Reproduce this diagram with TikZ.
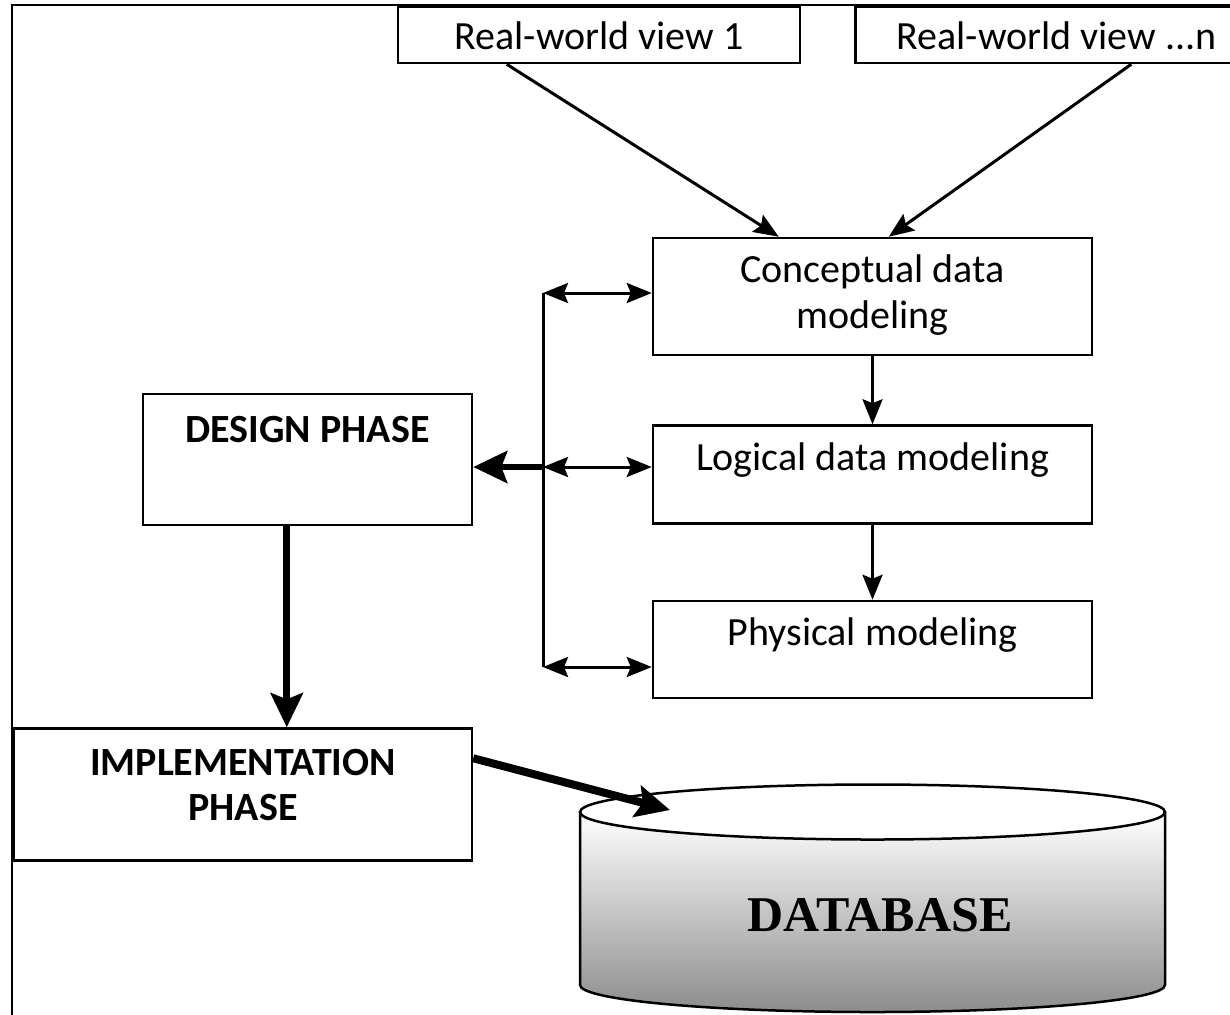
\documentclass[tikz,border=0pt]{standalone}
\usepackage{fontspec}
\setmainfont{Carlito}
\newfontfamily\dbfont{Liberation Serif}
\usetikzlibrary{arrows.meta,positioning,calc}

\tikzset{
	box/.style={draw, line width=1.25pt, align=center, inner sep=0pt},
	lift/.style 2 args={text height=#1, text depth=#2},
	phase/.style={box, font=\fontsize{20pt}{22.5pt}\selectfont\bfseries},
	link/.style={line width=1.5pt, -{Stealth[length=12.5pt,width=10pt,inset=2pt]}},
	both/.style={line width=1.5pt, {Stealth[length=12.5pt,width=10pt,inset=2pt]}-{Stealth[length=12.5pt,width=10pt,inset=2pt]}},
	heavy/.style={line width=3.5pt, -{Stealth[length=17pt,width=16pt,inset=3pt]}}
}

\begin{document}
\begin{tikzpicture}[x=0.5pt, y=-0.5pt, font=\fontsize{20pt}{23pt}\selectfont]
	\useasboundingbox (0,0) rectangle (1230,1014);
	\clip (0,0) rectangle (1230,1014);
	\fill[white] (0,0) rectangle (1230,1014);
	% outer frame
	\draw[line width=1pt] (12,5) rectangle (1260,1040);

	% views
	\node[box, lift={14pt}{0pt}, minimum width=201pt, minimum height=28pt](rw1) at (599,35){Real-world view 1};
	\node[box, lift={14pt}{0pt}, minimum width=201pt, minimum height=28pt, right=26.5pt of rw1](rwn){Real-world view ...n};

	% modeling steps
	\node[box, lift={36pt}{4.5pt}, minimum width=219.5pt, minimum height=58.5pt](conc) at (872.5,296.5){Conceptual data\\modeling};
	\node[box, lift={14pt}{18pt}, minimum width=219.5pt, minimum height=49pt, below=34pt of conc](logi){Logical data modeling};
	\node[box, lift={14pt}{18pt}, minimum width=219.5pt, minimum height=48.5pt, below=37.5pt of logi](phys){Physical modeling};

	% phases
	\node[phase, lift={14pt}{31pt}, minimum width=164.5pt, minimum height=65.5pt](design) at (307.5,459.5){DESIGN PHASE};
	\node[phase, lift={36pt}{10pt}, minimum width=229pt, minimum height=66pt, below=100.5pt of design.south east, anchor=north east](impl){IMPLEMENTATION\\PHASE};

	% database
	\shade[top color=white, bottom color=black!45] (580,812) -- (580,985)
		arc[start angle=180, end angle=360, x radius=146.25pt, y radius=13.5pt] -- (1165,812) -- cycle;
	\draw[line width=1.25pt] (580,812) -- (580,985)
		arc[start angle=180, end angle=360, x radius=146.25pt, y radius=13.5pt] -- (1165,812);
	\draw[line width=1.25pt, fill=white] (872.5,812) ellipse[x radius=146.25pt, y radius=13.75pt];
	\node[font=\fontsize{25pt}{29pt}\selectfont\dbfont\bfseries](db) at (880,915){DATABASE};
	\coordinate (dbin) at (670,810);

	% arrows from the views
	\draw[link] ($(rw1.south west)+(110,0)$) -- ($(conc.north west)+(127,0)$);
	\draw[link] ($(rwn.south west)+(277,0)$) -- ($(conc.north west)+(237,0)$);
	\draw[link] (conc) -- (logi);
	\draw[link] (logi) -- (phys);

	% bus to the design phase
	\coordinate (bt) at (543,293);
	\coordinate (bm) at (543,467);
	\coordinate (bb) at (543,667);
	\draw[line width=1.5pt] (bt) -- (bb);
	\foreach \p/\b in {bt/conc, bm/logi, bb/phys}
		\draw[both] (\p) -- (\p -| \b.west);
	\draw[heavy, line width=3pt] (bm) -- (bm -| design.east);

	% phases
	\coordinate (dout) at ($(design.south west)+(145,0)$);
	\draw[heavy] (dout) -- (dout |- impl.north);
	\draw[heavy, line width=4pt] ($(impl.north east)+(0,31)$) -- (dbin);
\end{tikzpicture}
\end{document}
